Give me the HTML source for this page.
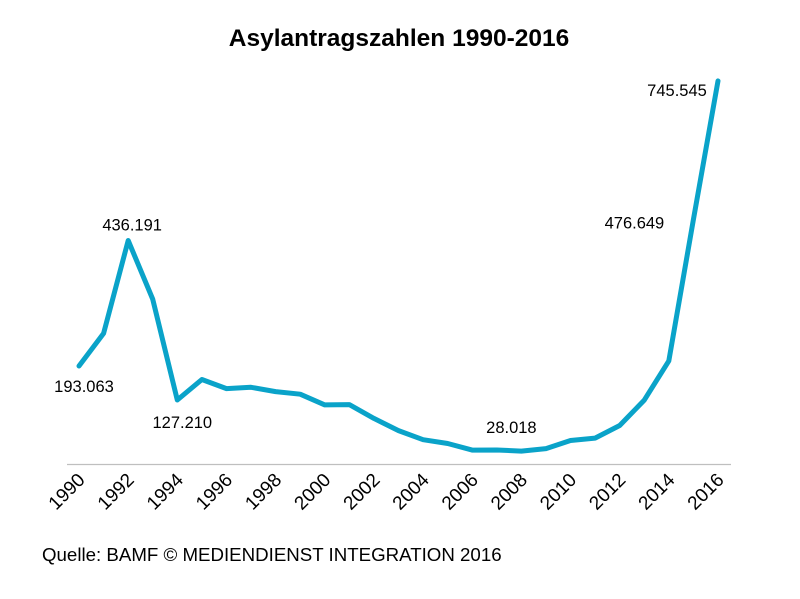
<!DOCTYPE html>
<html><head><meta charset="utf-8"><style>
body{margin:0;background:#fff;}
svg{display:block;font-family:"Liberation Sans",sans-serif;}
</style></head><body>
<svg id="chart" width="800" height="599" viewBox="0 0 800 599">
<text x="399" y="46" text-anchor="middle" font-size="24.5" font-weight="bold" fill="#000">Asylantragszahlen 1990-2016</text>
<line x1="67" y1="464.5" x2="731" y2="464.5" stroke="#bfbfbf" stroke-width="1.2"/>
<g id="ticks"></g>
<path id="line" fill="none" stroke="#0aa3c9" stroke-width="5" stroke-linejoin="round" stroke-linecap="round"/>
<g id="labels"></g>
<text x="42" y="561" font-size="18.7" fill="#000">Quelle: BAMF © MEDIENDIENST INTEGRATION 2016</text>
</svg>
<script>
const years=[1990,1991,1992,1993,1994,1995,1996,1997,1998,1999,2000,2001,2002,2003,2004,2005,2006,2007,2008,2009,2010,2011,2012,2013,2014,2015,2016];
const values=[193063,256112,436191,322599,127210,166951,149193,151700,143429,138319,117648,118306,91471,67848,50152,42908,30100,30303,28018,33033,48589,53347,77651,127023,202834,476649,745545];
const tickYears=[1990,1992,1994,1996,1998,2000,2002,2004,2006,2008,2010,2012,2014,2016];
const labelYears=[1990,1992,1994,2008,2015,2016];
const labelText=["193.063","436.191","127.210","28.018","476.649","745.545"];
const xs=y=>79+(y-1990)*(639/26);
const ys=v=>465.6-v*0.000516;
const NS="http://www.w3.org/2000/svg";
document.getElementById('line').setAttribute('d',years.map((y,i)=>(i?'L':'M')+xs(y).toFixed(1)+','+ys(values[i]).toFixed(1)).join(''));
const tg=document.getElementById('ticks');
tickYears.forEach(y=>{const t=document.createElementNS(NS,'text');


const x=xs(y)+7,yy=481;t.setAttribute('x',x);t.setAttribute('y',yy);t.setAttribute('text-anchor','end');t.setAttribute('font-size','19');t.setAttribute('transform',`rotate(-45 ${x} ${yy})`);t.textContent=y;tg.appendChild(t);});
const offs={1990:[5,26],1992:[4,-10],1994:[5,28],2008:[-10,-18],2015:[-59,9],2016:[-41,15]};
const lg=document.getElementById('labels');
labelYears.forEach((y,i)=>{const v=values[years.indexOf(y)];const t=document.createElementNS(NS,'text');


const o=offs[y]||[0,-10];t.setAttribute('x',xs(y)+o[0]);t.setAttribute('y',ys(v)+o[1]);t.setAttribute('text-anchor','middle');t.setAttribute('font-size','16.5');t.setAttribute('fill','#000');t.textContent=labelText[i];lg.appendChild(t);});
</script>
</body></html>
